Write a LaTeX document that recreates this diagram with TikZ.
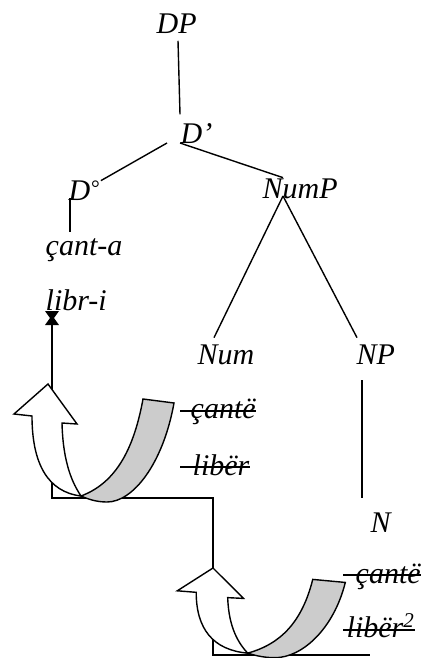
\documentclass[tikz,border=0pt]{standalone}
\usepackage{fontspec}
\setmainfont{Liberation Serif}
\begin{document}
\begin{tikzpicture}[x=1pt, y=-1pt, line width=1.4pt,
  lbl/.style={anchor=base west, inner sep=0pt, font=\fontsize{30}{36}\selectfont\itshape},
  uturn/.pic={
    \filldraw[fill=black!20] (95,15) .. controls (85,70) and (65,100) .. (33,112)
      .. controls (42,116) and (50,118) .. (59,118)
      .. controls (85,118) and (115,80) .. (126,19) -- cycle;
    \filldraw[fill=white] (33,112) .. controls (0,108) and (-16,80) .. (-16,32)
      -- (-34,30) -- (0,0) -- (29,40) -- (14,39)
      .. controls (15,80) and (25,100) .. (33,112) -- cycle;
  }]
\useasboundingbox (0,0) rectangle (424,658);
% Tree
\node[lbl] (DP) at (156,34) {DP};
\node[lbl] (Dbar) at (180,143) {D’};
\node[lbl] (Dzero) at (68,200) {D\raisebox{5pt}{\fontsize{22}{22}\selectfont °}};
\node[lbl] (cant) at (45,255) {çant-a};
\node[lbl] (libri) at (45,310) {libr-i};
\node[lbl] (NumP) at (262,198) {NumP};
\node[lbl] (Num) at (197,364) {Num};
\node[lbl] (NP) at (356,364) {NP};
\node[lbl] (N) at (370,532) {N};
\draw ([xshift=22pt,yshift=-6pt]DP.south west) -- ([yshift=8pt]Dbar.north west);
\draw ([xshift=-13pt]Dbar.base west) -- ([xshift=1pt,yshift=-1pt]Dzero.north east);
\draw (Dbar.base west) -- ([xshift=21pt]NumP.north west);
\draw ([xshift=2pt,yshift=2pt]Dzero.base west) -- ([xshift=25pt,yshift=5pt]cant.north west);
\draw ([xshift=21pt,yshift=2pt]NumP.base west) -- ([xshift=17pt,yshift=6pt]Num.north west);
\draw ([xshift=21pt,yshift=2pt]NumP.base west) -- ([xshift=1pt,yshift=6pt]NP.north west);
\draw ([xshift=6pt,yshift=-16pt]NP.base west) -- ([xshift=-8pt,yshift=14pt]N.north west);
% Struck-out copies
\node[lbl] (cantA) at (190,418) {çantë};
\node[lbl] (liberA) at (192,475) {libër};
\node[lbl] (cantB) at (355,583) {çantë};
\node[lbl] (liberB) at (346,637) {libër\textsuperscript{2}};
\draw ([xshift=-10pt,yshift=7pt]cantA.base west) -- ([yshift=7pt]cantA.base east);
\draw ([xshift=-12pt,yshift=8pt]liberA.base west) -- ([yshift=8pt]liberA.base east);
\draw ([xshift=-12pt,yshift=8pt]cantB.base west) -- ([yshift=8pt]cantB.base east);
\draw ([xshift=-3pt,yshift=7pt]liberB.base west) -- ([yshift=7pt]liberB.base east);
% Movement
\coordinate (hg) at ([xshift=7pt,yshift=-8pt]libri.base west);
\coordinate (k1) at (52,498);
\coordinate (k2) at (213,498);
\coordinate (k3) at (213,655);
\coordinate (k4) at (370,655);
\draw (hg) -- (k1) -- (k2) -- (k3) -- (k4);
\fill (hg) ++(-7,-7) -- ++(14,0) -- ++(-5,7) -- ++(5,7) -- ++(-14,0) -- ++(5,-7) -- cycle;
\pic at (48,384) {uturn};
\pic[xscale=1.05, yscale=0.76] at (213,568) {uturn};
\end{tikzpicture}
\end{document}
